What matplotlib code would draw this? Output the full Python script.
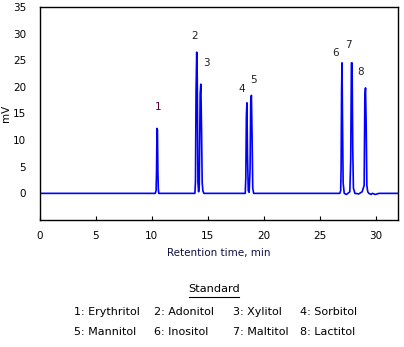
import matplotlib.pyplot as plt
from matplotlib.lines import Line2D

# chromatogram trace (min, mV)
time = [0, 10.30, 10.38, 10.42, 10.46, 10.50, 10.54, 10.58, 10.62,
        13.85, 13.90, 13.95, 14.01, 14.06, 14.12, 14.18, 14.24, 14.32, 14.38, 14.44, 14.50, 14.56, 14.65,
        18.35, 18.40, 18.45, 18.50, 18.55, 18.62, 18.70, 18.78, 18.84, 18.90, 18.96, 19.02, 19.10,
        26.80, 26.88, 26.92, 26.96, 27.00, 27.04, 27.10, 27.20, 27.40, 27.70, 27.78, 27.84, 27.90, 27.96,
        28.02, 28.15, 28.50, 28.80, 28.98, 29.04, 29.10, 29.16, 29.22, 29.30, 29.40, 29.60, 29.70, 30.0, 30.3, 32.0]
signal = [0, 0, 0.5, 4.2, 12.2, 11.9, 4.0, 0.8, 0,
          0, 2.3, 19.0, 26.5, 21.4, 2.0, 0.3, 1.5, 18.7, 20.5, 12.3, 2.0, 0.5, 0,
          0, 3.0, 14.5, 17.0, 7.3, 0.5, 0.2, 4.5, 17.3, 18.4, 10.8, 1.0, 0,
          0, 0.5, 4.8, 19.2, 24.5, 14.8, 2.0, 0, -0.2, 0.3, 6.5, 24.5, 24.5, 8.3,
          1.0, 0, -0.1, 0.3, 1.5, 18.0, 19.8, 13.0, 1.5, 0.3, 0, -0.2, 0, -0.2, 0, 0]

peak_ids = ['1', '2', '3', '4', '5', '6', '7', '8']
peak_lx = [10.6, 13.85, 14.9, 18.05, 19.1, 26.45, 27.6, 28.7]
peak_ly = [16.3, 29.6, 24.5, 19.5, 21.2, 26.4, 27.9, 22.8]
peak_colors = ['#5a0030', '#222', '#222', '#222', '#222', '#222', '#222', '#222']

legend_rows = [['1: Erythritol', '2: Adonitol', '3: Xylitol', '4: Sorbitol'],
               ['5: Mannitol', '6: Inositol', '7: Maltitol', '8: Lactitol']]

fig = plt.figure(figsize=(4.04, 3.47), dpi=100)
ax = fig.add_axes([0.099, 0.366, 0.886, 0.614])

ax.plot(time, signal, color='#0000ff', lw=1.2)

for lab, lx, ly, c in zip(peak_ids, peak_lx, peak_ly, peak_colors):
    ax.text(lx, ly, lab, fontsize=7.5, color=c, ha='center', va='center')

ax.set_xlim(0, 32)
ax.set_ylim(-5, 35)
ax.set_xticks(range(0, 31, 5))
ax.set_yticks(range(0, 36, 5))
ax.tick_params(axis='x', direction='in', length=3, labelsize=7.5, pad=8)
ax.tick_params(axis='y', length=0, labelsize=7.5, pad=10)
for s in ax.spines.values():
    s.set_linewidth(1.0)
    s.set_color('black')

ax.set_xlabel('Retention time, min', fontsize=7.5, color='#111144', labelpad=5)
ax.set_ylabel('mV', fontsize=7.5, labelpad=1)

# legend block below the chart
fig.text(214 / 404, 1 - 289 / 347, 'Standard', fontsize=8.2, ha='center', va='center')
fig.add_artist(Line2D([189 / 404, 239 / 404], [1 - 297 / 347, 1 - 297 / 347],
                      color='black', lw=0.8, transform=fig.transFigure))
col_x = [74, 154, 233, 300]
row_y = [312, 332]
for row, ry in zip(legend_rows, row_y):
    for item, cx in zip(row, col_x):
        fig.text(cx / 404, 1 - ry / 347, item, fontsize=8, ha='left', va='center')

fig.savefig('out.png', dpi=100)
